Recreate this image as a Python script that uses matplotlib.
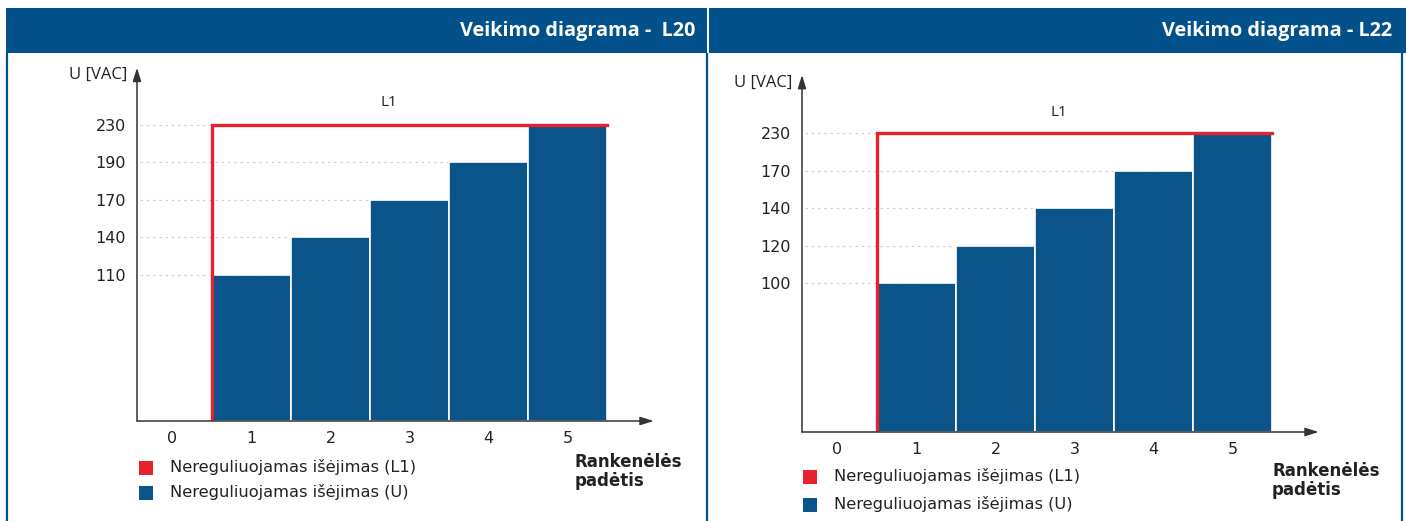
import numpy as np
import matplotlib
matplotlib.use('Agg')
import matplotlib.pyplot as plt
from matplotlib.patches import Rectangle

plt.rcParams['font.family'] = ['DejaVu Sans']

# data
positions = [0, 1, 2, 3, 4, 5]
l20_volts = [110, 140, 170, 190, 230]
l22_volts = [100, 120, 140, 170, 230]
l1_level = 230
l20_ticks = [110, 140, 170, 190, 230]
l22_ticks = [100, 120, 140, 170, 230]
titles = ['Veikimo diagrama -  L20', 'Veikimo diagrama - L22']
legend_labels = ['Nereguliuojamas išėjimas (L1)', 'Nereguliuojamas išėjimas (U)']
xlabel = 'Rankenėlės\npadėtis'

blue = '#03518a'
bar_blue = '#0a5489'
red = '#e6222e'
W, H = 1406, 521

fig = plt.figure(figsize=(W / 100, H / 100), dpi=100)
bg = fig.add_axes([0, 0, 1, 1])
bg.set_xlim(0, W)
bg.set_ylim(H, 0)
bg.axis('off')

# header bands and panel borders
bg.add_patch(Rectangle((6, 8), 701, 45, color=blue, lw=0))
bg.add_patch(Rectangle((709, 8), 697, 45, color=blue, lw=0))
for xb in [7, 707, 1402]:
    bg.plot([xb, xb], [53, H], color=blue, lw=1.6, solid_capstyle='butt')
bg.text(695, 31, titles[0], color='white', fontsize=14.3, fontweight='bold',
        family='Open Sans', ha='right', va='center')
bg.text(1392, 31, titles[1], color='white', fontsize=14.3, fontweight='bold',
        family='Open Sans', ha='right', va='center')


def make_scale(ticks, r0):
    vals = [0] + list(ticks) + [ticks[-1] + 100]
    ranks = [r0] + list(range(1, len(ticks) + 1)) + [len(ticks) + 2.5]
    fwd = lambda v: np.interp(v, vals, ranks)
    inv = lambda r: np.interp(r, ranks, vals)
    return fwd, inv


def panel(px_left, px_base, px_right, px_top, volts, ticks, r0,
          r_arrow, l1_xy, leg_x, leg_y, leg_gap, xl_xy):
    fwd, inv = make_scale(ticks, r0)
    spacing = 79.0
    x_min = 0.5 - 75 / spacing
    x_max = x_min + (px_right - px_left) / spacing
    r_top = r0 + (px_base - px_top) / 37.5
    ax = fig.add_axes([px_left / W, (H - px_base) / H,
                       (px_right - px_left) / W, (px_base - px_top) / H])
    ax.set_yscale('function', functions=(fwd, inv))
    ax.set_xlim(x_min, x_max)
    ax.set_ylim(0, inv(r_top))
    for s in ax.spines.values():
        s.set_visible(False)
    ax.patch.set_alpha(0)

    ax.hlines(ticks, x_min + 0.04, 5.5, colors='#d0d0d0', linestyles=(0, (2, 3)),
              lw=0.9, zorder=1)
    ax.bar(positions[1:], volts, width=1.0, color=bar_blue,
           edgecolor='white', linewidth=1.2, zorder=2)
    ax.plot([0.5, 0.5, 5.5], [0, l1_level, l1_level], color=red, lw=2.4,
            solid_joinstyle='miter', zorder=3)

    # axes with arrows
    ap = dict(arrowstyle='-|>,head_length=0.8,head_width=0.25',
              color='#333333', lw=1.1, shrinkA=0, shrinkB=0)
    ax.annotate('', xy=(x_max - 0.08, 0), xytext=(x_min, 0), arrowprops=ap,
                annotation_clip=False, zorder=4)
    ax.annotate('', xy=(x_min, inv(r_arrow)), xytext=(x_min, 0), arrowprops=ap,
                annotation_clip=False, zorder=4)

    ax.set_yticks(ticks)
    ax.set_yticklabels([str(t) for t in ticks])
    ax.set_xticks(positions)
    ax.set_xticklabels([str(p) for p in positions])
    ax.tick_params(axis='y', length=0, pad=8, labelsize=11.5, labelcolor='#222222')
    ax.tick_params(axis='x', length=0, pad=7, labelsize=11.5, labelcolor='#222222')

    ax.text(x_min - 0.12, inv(6.33), 'U [VAC]', ha='right', va='center',
            fontsize=12, family='Open Sans', color='#222222')
    ax.text(l1_xy[0], inv(l1_xy[1]), 'L1', ha='center', va='center',
            fontsize=11, family='Open Sans', color='#222222')

    # legend
    for i, (lab, col) in enumerate(zip(legend_labels, [red, bar_blue])):
        yy = leg_y + i * leg_gap
        bg.add_patch(Rectangle((leg_x, yy - 7), 14, 14, color=col, lw=0))
        bg.text(leg_x + 31, yy - 1, lab, fontsize=11.7, va='center', ha='left',
                color='#222222')
    bg.text(xl_xy[0], xl_xy[1], xlabel, fontsize=12, fontweight='bold',
            va='top', ha='left', color='#222222', linespacing=1.1)
    return ax


panel(137, 421, 660, 60, l20_volts, l20_ticks, -2.9, 6.52,
      (2.74, 5.59), 139, 468, 25, (575, 453))
panel(802, 432, 1325, 67, l22_volts, l22_ticks, -2.97, 6.55,
      (2.8, 5.56), 803, 477, 28, (1272, 462))

fig.savefig('out.png', dpi=100)
